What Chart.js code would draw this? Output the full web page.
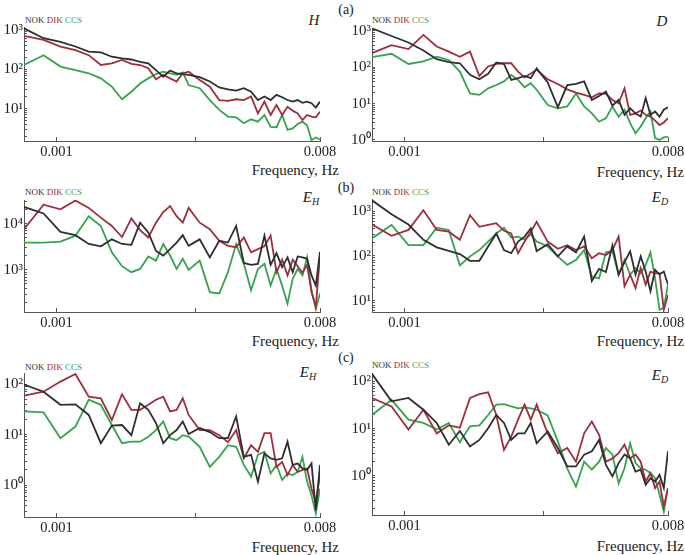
<!DOCTYPE html>
<html>
<head>
<meta charset="utf-8">
<script src="https://cdn.jsdelivr.net/npm/chart.js@4.4.1/dist/chart.umd.min.js"></script>
<style>
  body { margin: 0; background: #fff; }
  #page { position: relative; width: 685px; height: 555px; overflow: hidden; font-family: "Liberation Serif", serif; color: #222; }
  canvas { position: absolute; }
  .t { position: absolute; white-space: nowrap; line-height: 1; transform: translate(-50%, -50%); }
  .leg { position: absolute; white-space: nowrap; line-height: 1; font-size: 9px; transform: translateY(-50%); }
  .xt { position: absolute; white-space: nowrap; line-height: 1; font-size: 15px; transform: translate(-100%, -50%); }
  .nok { color: #333; }
  .dik { color: #9c2f3e; }
  .ccs { color: #37a24f; }
  .ttl { font-style: italic; font-size: 15px; }
  .ttl sub { font-size: 10px; vertical-align: -3px; }
  .pl { font-size: 14px; }
</style>
</head>
<body>
<div id="page">
  <div class="leg" style="left:25px;top:20px"><span class="nok">NOK</span> <span class="dik">DIK</span> <span class="ccs">CCS</span></div>
  <div class="leg" style="left:372px;top:20px"><span class="nok">NOK</span> <span class="dik">DIK</span> <span class="ccs">CCS</span></div>
  <div class="leg" style="left:25px;top:192px"><span class="nok">NOK</span> <span class="dik">DIK</span> <span class="ccs">CCS</span></div>
  <div class="leg" style="left:372px;top:192px"><span class="nok">NOK</span> <span class="dik">DIK</span> <span class="ccs">CCS</span></div>
  <div class="leg" style="left:25px;top:367px"><span class="nok">NOK</span> <span class="dik">DIK</span> <span class="ccs">CCS</span></div>
  <div class="leg" style="left:372px;top:365px"><span class="nok">NOK</span> <span class="dik">DIK</span> <span class="ccs">CCS</span></div>

  <div class="t ttl" style="left:314px;top:20px">H</div>
  <div class="t ttl" style="left:662px;top:21px">D</div>
  <div class="t ttl" style="left:311px;top:198px">E<sub>H</sub></div>
  <div class="t ttl" style="left:660px;top:198px">E<sub>D</sub></div>
  <div class="t ttl" style="left:308px;top:373px">E<sub>H</sub></div>
  <div class="t ttl" style="left:660px;top:376px">E<sub>D</sub></div>

  <div class="t pl" style="left:346px;top:10px">(a)</div>
  <div class="t pl" style="left:346px;top:188px">(b)</div>
  <div class="t pl" style="left:346px;top:358px">(c)</div>

  <div class="xt" style="left:339px;top:170px">Frequency, Hz</div>
  <div class="xt" style="left:684px;top:172px">Frequency, Hz</div>
  <div class="xt" style="left:339px;top:341px">Frequency, Hz</div>
  <div class="xt" style="left:684px;top:341px">Frequency, Hz</div>
  <div class="xt" style="left:339px;top:547px">Frequency, Hz</div>
  <div class="xt" style="left:684px;top:546px">Frequency, Hz</div>
</div>
<script>
// frequencies, Hz
const freq = [0.000774, 0.000903, 0.001032, 0.001161, 0.00129, 0.001419, 0.001548, 0.001677,
  0.001806, 0.001935, 0.002064, 0.002193, 0.002322, 0.002451, 0.00258, 0.002709, 0.002838,
  0.003096, 0.003354, 0.003612, 0.00387, 0.004128, 0.004386, 0.004644, 0.004902, 0.00516,
  0.005418, 0.005676, 0.005934, 0.006192, 0.00645, 0.006708, 0.006966, 0.007224, 0.007482,
  0.00774, 0.007998];

const stations = ['NOK', 'DIK', 'CCS'];
const xTicks = [0.001, 0.003, 0.008];
const xTickLabels = ['0.001', '', '0.008'];

// spectral power, read as log10 values
// (a) H
const logH_NOK = [3.04,2.79,2.70,2.58,2.45,2.43,2.32,2.28,2.25,2.19,2.15,1.98,1.81,1.97,1.90,1.88,1.86,1.80,1.69,1.54,1.49,1.46,1.52,1.43,1.22,1.31,1.22,1.35,1.29,1.22,1.18,1.22,1.15,1.18,1.14,1.03,1.18];
const logH_DIK = [2.85,2.75,2.58,2.49,2.36,2.11,2.15,2.24,2.14,2.11,2.03,1.75,1.86,1.77,1.69,1.90,1.94,1.73,1.56,1.22,1.20,1.24,1.22,1.31,0.88,1.18,0.84,1.09,0.84,1.05,0.95,0.88,0.71,0.84,0.80,0.78,0.92];
const logH_CCS = [2.11,2.36,2.07,1.98,1.90,1.77,1.56,1.24,1.43,1.64,1.77,1.88,1.94,1.90,1.86,1.92,1.60,1.52,1.22,0.97,0.80,0.78,0.63,0.73,0.67,0.84,0.54,0.53,0.84,0.46,0.50,0.61,0.67,0.58,0.20,0.27,0.22];
// (a) D
const logD_NOK = [3.07,2.86,2.68,2.46,2.22,2.14,2.11,1.79,1.67,1.82,2.13,2.09,1.65,1.70,1.76,1.70,1.97,1.58,0.90,1.51,1.54,1.61,1.10,1.21,1.33,0.94,1.10,0.69,0.87,0.73,0.64,1.15,0.69,0.78,0.64,0.83,0.90];
const logD_DIK = [2.39,2.61,2.50,2.89,2.57,2.43,2.29,2.43,1.76,2.02,2.09,2.11,2.11,1.88,1.72,1.83,1.93,1.67,1.54,1.39,1.30,1.24,1.17,1.28,1.27,1.10,1.01,1.42,0.69,0.73,0.81,0.69,0.64,0.53,0.41,0.48,0.60];
const logD_CCS = [2.28,2.37,2.09,2.16,2.29,2.20,1.88,1.28,1.24,1.42,1.51,1.61,1.79,1.65,1.45,1.56,1.38,0.96,0.87,0.92,1.28,0.92,0.73,0.50,0.60,0.92,0.64,0.83,0.46,0.18,0.37,0.60,0.78,0.05,0.00,0.07,0.09];
// (b) E_H
const logEHb_NOK = [4.36,4.22,3.82,3.75,3.56,3.51,3.66,3.56,3.54,4.02,3.81,3.41,3.31,3.45,3.59,3.75,3.52,3.66,3.27,3.63,3.59,3.95,3.15,3.11,3.13,3.74,3.11,3.36,3.06,3.27,2.95,3.29,3.27,3.24,2.88,2.66,3.39];
const logEHb_DIK = [3.88,4.41,4.31,4.50,4.34,4.13,3.95,3.71,4.11,3.86,3.70,4.02,4.25,4.38,4.16,4.02,4.34,4.02,3.88,3.63,3.52,3.49,3.70,3.38,3.45,3.51,3.74,2.95,3.22,2.88,3.22,3.08,2.94,3.11,2.52,2.20,3.31];
const logEHb_CCS = [3.59,3.59,3.61,3.74,4.16,3.95,3.38,3.08,2.95,3.02,3.29,3.20,3.56,3.31,3.02,3.24,3.00,3.20,2.52,2.49,2.95,3.56,3.13,2.56,3.02,3.13,2.66,3.02,2.66,2.27,2.81,3.02,2.88,3.27,2.56,2.16,2.49];
// (b) E_D
const logEDb_NOK = [3.24,2.93,2.70,2.36,2.19,2.11,2.04,1.89,1.89,2.21,2.50,2.13,2.06,2.32,2.43,2.61,2.11,2.26,1.99,2.21,2.08,2.43,1.44,1.71,1.64,2.23,1.58,1.86,2.10,1.58,1.99,1.65,1.21,1.69,1.59,1.65,1.36];
const logEDb_DIK = [2.70,2.45,2.58,3.02,2.58,2.54,2.36,2.91,2.65,2.69,2.73,2.56,2.50,2.06,2.32,2.54,2.76,2.32,2.16,2.24,2.13,2.21,1.95,2.06,2.02,2.13,2.43,1.32,1.58,1.28,1.73,1.36,1.65,1.61,1.61,0.80,1.13];
const logEDb_CCS = [2.39,2.69,2.24,2.24,2.63,2.58,1.79,1.99,2.13,2.32,2.50,2.63,2.41,2.43,2.36,2.48,2.32,2.21,1.99,1.80,1.91,2.13,1.54,1.50,2.08,2.11,1.58,1.91,1.58,1.73,1.61,1.80,2.08,1.50,0.80,0.84,1.36];
// (c) E_H
const logEHc_NOK = [1.99,1.85,1.59,1.60,1.39,0.83,1.18,1.19,0.99,1.62,1.49,1.23,0.83,0.99,1.09,1.26,1.01,1.13,1.05,0.93,0.93,1.36,0.56,0.60,0.07,0.63,0.53,0.50,0.53,0.86,0.40,0.43,0.33,0.30,0.43,-0.50,0.40];
const logEHc_DIK = [1.77,1.85,2.05,2.20,1.75,1.72,1.29,1.80,1.49,1.49,1.59,1.69,1.75,1.46,1.49,1.72,1.39,1.09,1.09,0.99,0.85,1.09,0.53,0.79,0.66,1.03,1.03,0.36,0.46,0.20,0.40,0.26,0.30,0.33,-0.07,-0.33,0.20];
const logEHc_CCS = [1.46,1.44,0.93,1.16,1.69,1.59,1.19,0.83,0.86,0.86,0.96,1.09,1.26,0.93,0.89,0.99,0.96,0.76,0.36,0.56,0.79,0.76,0.40,0.17,0.60,0.66,0.23,0.40,0.10,0.23,0.20,0.26,0.56,0.07,-0.20,-0.56,-0.07];
// (c) E_D
const logEDc_NOK = [2.16,1.58,1.65,1.40,1.12,0.66,0.95,0.62,0.76,1.01,1.29,1.12,0.76,0.90,0.90,1.12,0.69,0.94,0.59,0.20,0.20,0.45,0.52,0.76,0.23,-0.01,0.27,0.45,0.37,0.09,0.13,-0.19,-0.05,-0.12,0.02,-0.26,0.52];
const logEDc_DIK = [1.65,1.47,0.98,1.40,0.90,1.07,1.02,1.65,1.73,1.77,1.29,0.55,0.83,1.19,1.51,1.19,1.51,0.90,0.48,0.59,0.30,0.90,1.15,0.87,0.30,0.37,0.48,0.66,0.37,0.45,0.30,-0.12,0.06,-0.26,-0.12,-0.65,-0.26];
const logEDc_CCS = [1.29,1.61,1.19,1.12,0.98,1.12,0.71,1.05,1.07,1.29,1.51,1.52,1.47,1.43,1.45,1.43,1.40,1.28,0.73,0.16,-0.23,0.30,0.13,0.30,0.59,0.45,-0.16,0.16,0.69,0.27,0.16,0.13,0.06,-0.05,-0.40,-0.76,-0.26];

const colors = ['#2e2e2e', '#9c2f3e', '#37a24f'];

// plot boxes on the page
const panels = [
  { left: 24,  top: 27,  width: 296, height: 114, yMin: 1.51,  yMax: 1191,  series: [logH_NOK, logH_DIK, logH_CCS] },
  { left: 372, top: 28,  width: 296, height: 113, yMin: 0.933, yMax: 1202,  series: [logD_NOK, logD_DIK, logD_CCS] },
  { left: 24,  top: 200, width: 296, height: 112, yMin: 123,   yMax: 32400, series: [logEHb_NOK, logEHb_DIK, logEHb_CCS] },
  { left: 372, top: 199, width: 296, height: 113, yMin: 5.6,   yMax: 1862,  series: [logEDb_NOK, logEDb_DIK, logEDb_CCS] },
  { left: 24,  top: 373, width: 296, height: 144, yMin: 0.234, yMax: 166,   series: [logEHc_NOK, logEHc_DIK, logEHc_CCS] },
  { left: 372, top: 373, width: 296, height: 142, yMin: 0.148, yMax: 151,   series: [logEDc_NOK, logEDc_DIK, logEDc_CCS] }
];

const sup = { '0': '\u2070', '1': '\u00b9', '2': '\u00b2', '3': '\u00b3', '4': '\u2074', '-': '\u207b' };
function isPow10(v) {
  const e = Math.log10(v);
  return Math.abs(e - Math.round(e)) < 1e-9;
}
function powLabel(v) {
  if (!isPow10(v)) return '';
  const e = Math.round(Math.log10(v));
  return '10' + String(e).split('').map(c => sup[c]).join('');
}
// decade and minor (2..9) tick marks inside the range
function logTicks(min, max) {
  const out = [];
  for (let e = Math.floor(Math.log10(min)); e <= Math.ceil(Math.log10(max)); e++) {
    for (let m = 1; m <= 9; m++) {
      const v = Number((m * Math.pow(10, e)).toPrecision(6));
      if (v >= min && v <= max) out.push({ value: v });
    }
  }
  return out;
}

function makePanel(p) {
  const c = document.createElement('canvas');
  c.width = 24 + p.width + 20;
  c.height = 6 + p.height + 22;
  c.style.left = (p.left - 24) + 'px';
  c.style.top = (p.top - 6) + 'px';
  document.getElementById('page').appendChild(c);

  new Chart(c.getContext('2d'), {
    type: 'line',
    data: {
      datasets: p.series.map((s, k) => ({
        label: stations[k],
        data: freq.map((f, i) => ({ x: f, y: Math.pow(10, s[i]) })),
        borderColor: colors[k],
        borderWidth: 1.8,
        pointRadius: 0,
        tension: 0,
        fill: false
      }))
    },
    options: {
      responsive: false,
      animation: false,
      devicePixelRatio: 1,
      layout: { padding: { left: 0, top: 6, right: 20, bottom: 0 } },
      plugins: { legend: { display: false }, tooltip: { enabled: false } },
      scales: {
        x: {
          type: 'logarithmic',
          min: freq[0],
          max: 0.008,
          afterBuildTicks: s => { s.ticks = xTicks.map(v => ({ value: v })); },
          afterFit: s => { s.height = 22; s.paddingLeft = 0; s.paddingRight = 0; },
          ticks: {
            autoSkip: false, maxRotation: 0, padding: 6, color: '#222',
            font: { family: 'Liberation Serif', size: 14.5 },
            callback: v => { const i = xTicks.indexOf(v); return i < 0 ? '' : xTickLabels[i]; }
          },
          grid: { display: true, drawOnChartArea: false, drawTicks: true, tickLength: -4, color: '#555' },
          border: { display: true, color: '#555', width: 1 }
        },
        y: {
          type: 'logarithmic',
          min: p.yMin,
          max: p.yMax,
          afterBuildTicks: s => { s.ticks = logTicks(p.yMin, p.yMax); },
          afterFit: s => { s.width = 24; s.paddingTop = 0; s.paddingBottom = 0; },
          ticks: {
            autoSkip: false, padding: 4, color: '#222',
            font: { family: 'Liberation Serif', size: 15 },
            callback: v => powLabel(v)
          },
          grid: { display: true, drawOnChartArea: false, drawTicks: true, tickLength: -3, color: '#555' },
          border: { display: true, color: '#555', width: 1 }
        }
      }
    }
  });
}

panels.forEach(makePanel);
</script>
</body>
</html>
